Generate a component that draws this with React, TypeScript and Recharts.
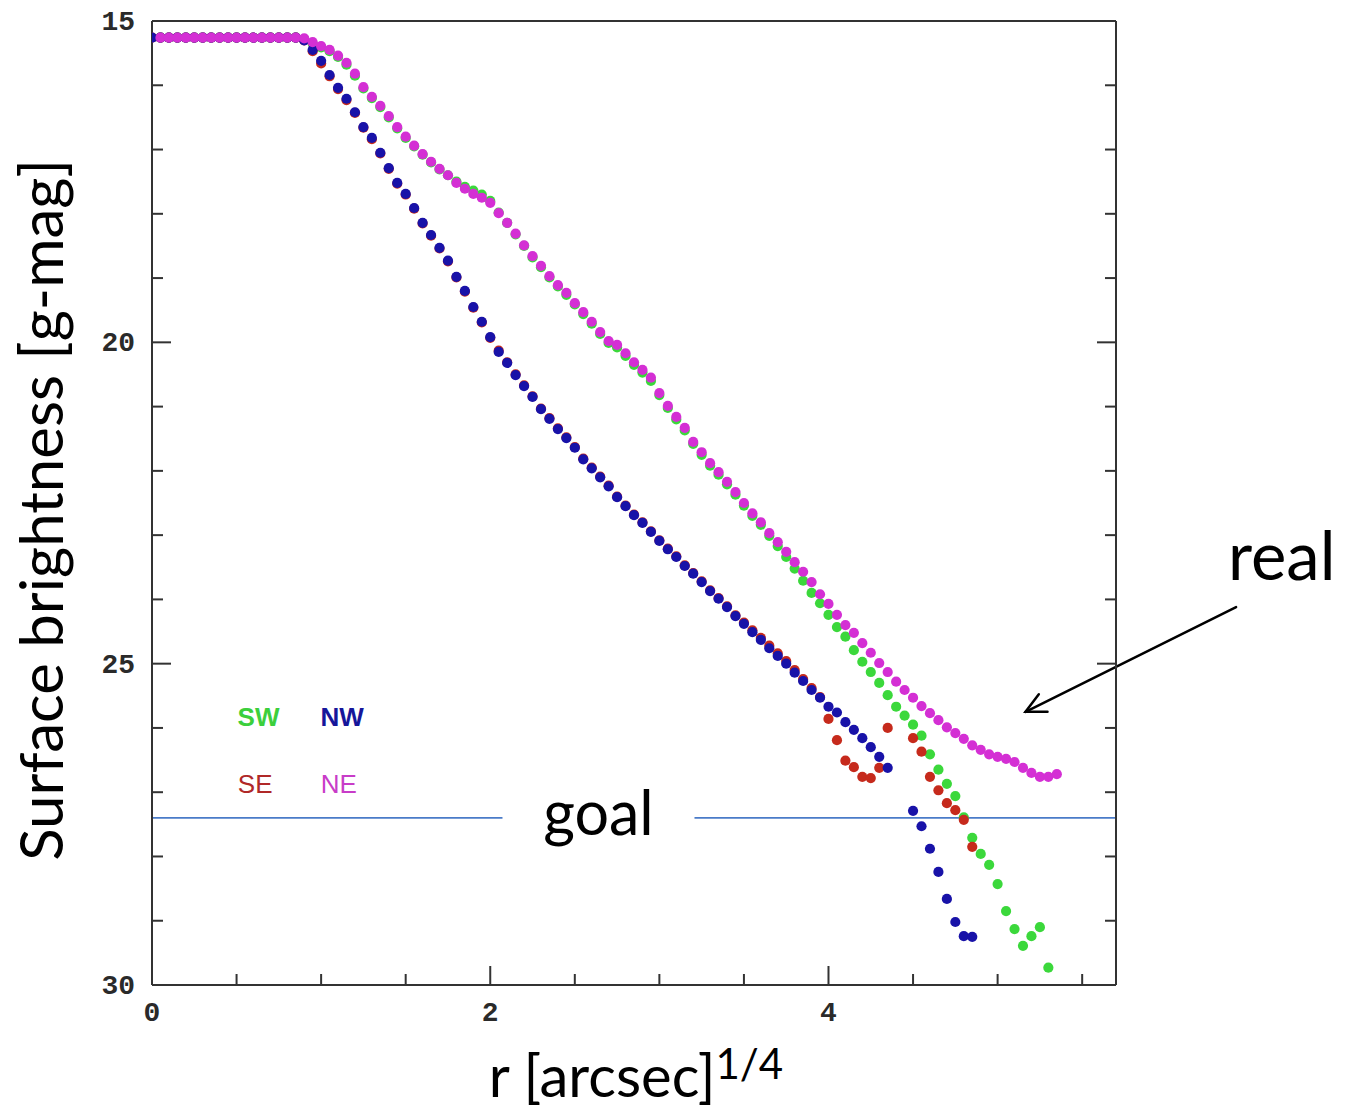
import React from 'react';
import { ScatterChart, Scatter, XAxis, YAxis, ReferenceLine, ReferenceDot, Label } from 'recharts';

// radius grid, r^(1/4) in arcsec
const R = [
  0.0, 0.05, 0.1, 0.15, 0.2, 0.25, 0.3, 0.35, 0.4, 0.45,
  0.5, 0.55, 0.6, 0.65, 0.7, 0.75, 0.8, 0.85, 0.9, 0.95,
  1.0, 1.05, 1.1, 1.15, 1.2, 1.25, 1.3, 1.35, 1.4, 1.45,
  1.5, 1.55, 1.6, 1.65, 1.7, 1.75, 1.8, 1.85, 1.9, 1.95,
  2.0, 2.05, 2.1, 2.15, 2.2, 2.25, 2.3, 2.35, 2.4, 2.45,
  2.5, 2.55, 2.6, 2.65, 2.7, 2.75, 2.8, 2.85, 2.9, 2.95,
  3.0, 3.05, 3.1, 3.15, 3.2, 3.25, 3.3, 3.35, 3.4, 3.45,
  3.5, 3.55, 3.6, 3.65, 3.7, 3.75, 3.8, 3.85, 3.9, 3.95,
  4.0, 4.05, 4.1, 4.15, 4.2, 4.25, 4.3, 4.35, 4.4, 4.45,
  4.5, 4.55, 4.6, 4.65, 4.7, 4.75, 4.8, 4.85, 4.9, 4.95,
  5.0, 5.05, 5.1, 5.15, 5.2, 5.25, 5.3, 5.35,
];

const SW = [
  null, 15.26, 15.26, 15.26, 15.26, 15.26, 15.26, 15.26, 15.26, 15.26,
  15.26, 15.26, 15.26, 15.26, 15.26, 15.26, 15.26, 15.26, 15.28, 15.35,
  15.41, 15.47, 15.56, 15.68, 15.85, 16.05, 16.2, 16.34, 16.5, 16.67,
  16.82, 16.95, 17.08, 17.2, 17.31, 17.4, 17.5, 17.58, 17.64, 17.7,
  17.8, 17.98, 18.14, 18.32, 18.5, 18.68, 18.83, 18.99, 19.13, 19.26,
  19.41, 19.56, 19.71, 19.87, 20.01, 20.08, 20.21, 20.35, 20.47, 20.6,
  20.82, 21.02, 21.2, 21.37, 21.58, 21.75, 21.92, 22.06, 22.21, 22.37,
  22.54, 22.7, 22.84, 23.01, 23.17, 23.34, 23.52, 23.71, 23.9, 24.06,
  24.24, 24.43, 24.58, 24.79, 24.97, 25.13, 25.3, 25.49, 25.67, 25.81,
  25.95, 26.12, 26.41, 26.65, 26.87, 27.06, 27.39, 27.71, 27.96, 28.13,
  28.43, 28.85, 29.13, 29.39, 29.24, 29.1, 29.73, null,
];

const SE = [
  15.26, 15.26, 15.26, 15.26, 15.26, 15.26, 15.26, 15.26, 15.26, 15.26,
  15.26, 15.26, 15.26, 15.26, 15.26, 15.26, 15.26, 15.26, 15.3, 15.47,
  15.66, 15.86, 16.06, 16.23, 16.43, 16.66, 16.84, 17.06, 17.3, 17.53,
  17.7, 17.92, 18.15, 18.34, 18.54, 18.74, 18.99, 19.21, 19.46, 19.69,
  19.93, 20.13, 20.31, 20.5, 20.67, 20.84, 21.03, 21.18, 21.34, 21.48,
  21.63, 21.81, 21.95, 22.09, 22.23, 22.4, 22.54, 22.68, 22.8, 22.94,
  23.08, 23.21, 23.33, 23.47, 23.59, 23.72, 23.86, 23.98, 24.11, 24.25,
  24.36, 24.48, 24.6, 24.72, 24.84, 24.96, 25.1, 25.24, 25.38, 25.52,
  25.86, 26.19, 26.51, 26.61, 26.76, 26.78, 26.62, 26.0, null, null,
  26.16, 26.37, 26.76, 26.97, 27.17, 27.28, 27.43, 27.85, null, null,
  null, null, null, null, null, null, null, null,
];

const NW = [
  15.26, 15.26, 15.26, 15.26, 15.26, 15.26, 15.26, 15.26, 15.26, 15.26,
  15.26, 15.26, 15.26, 15.26, 15.26, 15.26, 15.26, 15.26, 15.3, 15.45,
  15.62, 15.84, 16.04, 16.21, 16.42, 16.65, 16.82, 17.05, 17.29, 17.52,
  17.69, 17.91, 18.14, 18.33, 18.53, 18.73, 18.98, 19.2, 19.45, 19.68,
  19.92, 20.15, 20.32, 20.51, 20.68, 20.85, 21.04, 21.19, 21.35, 21.49,
  21.64, 21.82, 21.96, 22.1, 22.24, 22.41, 22.55, 22.69, 22.81, 22.95,
  23.09, 23.22, 23.34, 23.48, 23.6, 23.73, 23.87, 23.99, 24.12, 24.26,
  24.38, 24.51, 24.63, 24.76, 24.88, 25.0, 25.14, 25.27, 25.41, 25.53,
  25.67, 25.76, 25.91, 26.03, 26.16, 26.3, 26.45, 26.62, null, null,
  27.29, 27.53, 27.88, 28.24, 28.66, 29.02, 29.24, 29.25, null, null,
  null, null, null, null, null, null, null, null,
];

const NE = [
  null, 15.26, 15.26, 15.26, 15.26, 15.26, 15.26, 15.26, 15.26, 15.26,
  15.26, 15.26, 15.26, 15.26, 15.26, 15.26, 15.26, 15.26, 15.27, 15.33,
  15.39, 15.45, 15.54, 15.65, 15.82, 16.03, 16.18, 16.32, 16.48, 16.65,
  16.8, 16.94, 17.07, 17.19, 17.3, 17.4, 17.52, 17.61, 17.69, 17.75,
  17.83, 17.99, 18.14, 18.31, 18.49, 18.66, 18.81, 18.97, 19.11, 19.23,
  19.39, 19.53, 19.68, 19.84, 19.98, 20.04, 20.17, 20.31, 20.43, 20.55,
  20.79, 20.99, 21.16, 21.33, 21.55, 21.71, 21.88, 22.02, 22.17, 22.33,
  22.5, 22.66, 22.8, 22.97, 23.11, 23.26, 23.42, 23.57, 23.73, 23.92,
  24.07, 24.24, 24.4, 24.52, 24.68, 24.83, 24.99, 25.13, 25.28, 25.41,
  25.53, 25.66, 25.77, 25.88, 25.99, 26.08, 26.17, 26.27, 26.34, 26.41,
  26.45, 26.48, 26.53, 26.62, 26.7, 26.76, 26.76, 26.72,
];

const X_TICKS = [0, 0.5, 1, 1.5, 2, 2.5, 3, 3.5, 4, 4.5, 5, 5.5];
const X_LABELS = [0, 2, 4];
const Y_TICKS = [15, 16, 17, 18, 19, 20, 21, 22, 23, 24, 25, 26, 27, 28, 29, 30];
const Y_LABELS = [15, 20, 25, 30];

const GOAL = 27.4;
const GOAL_TEXT = { r: 2.64, mag: GOAL };
const REAL_TEXT = { r: 6.68, mag: 23.7 };
const REAL_ARROW = [{ r: 6.41, mag: 24.12 }, { r: 5.165, mag: 25.75 }];

const LEGEND = [
  { name: 'SW', r: 0.63, mag: 25.83, color: '#3ccf3c', weight: 700 },
  { name: 'NW', r: 1.125, mag: 25.83, color: '#16169a', weight: 700 },
  { name: 'SE', r: 0.61, mag: 26.87, color: '#b02828', weight: 400 },
  { name: 'NE', r: 1.105, mag: 26.87, color: '#c83cc8', weight: 400 },
];

const SERIES = [
  { name: 'SW', values: SW, color: '#3bd83b' },
  { name: 'SE', values: SE, color: '#c62a1c' },
  { name: 'NW', values: NW, color: '#1812a8' },
  { name: 'NE', values: NE, color: '#d42fd4' },
];

const toPoints = (vals: (number | null)[]) =>
  R.map((r, i) => ({ r, mag: vals[i] })).filter((p) => p.mag !== null);

const AXIS = '#333';
const TEXT_FONT = 'Lato, "Open Sans", sans-serif';

const AxisTick = (props: any) => {
  const { x, y, payload, side } = props;
  const v = payload.value;
  const horiz = side === 'bottom' || side === 'top';
  const major = horiz ? X_LABELS.includes(v) : Y_LABELS.includes(v);
  const len = major ? 19 : 11;
  let line = null;
  let label = null;
  if (side === 'bottom') {
    line = <line x1={x} y1={y} x2={x} y2={y - len} />;
    if (major)
      label = (
        <text x={x} y={y + 36} textAnchor="middle">
          {v}
        </text>
      );
  } else if (side === 'top') {
    line = <line x1={x} y1={y} x2={x} y2={y + len} />;
  } else if (side === 'left') {
    line = <line x1={x} y1={y} x2={x + len} y2={y} />;
    if (major)
      label = (
        <text x={x - 17} y={y + 9} textAnchor="end">
          {v}
        </text>
      );
  } else {
    line = <line x1={x} y1={y} x2={x - len} y2={y} />;
  }
  return (
    <g>
      <g stroke={AXIS} strokeWidth={2}>{line}</g>
      <g fontFamily='"Liberation Mono", monospace' fontWeight={700} fontSize={28} fill="#2a2a2a">
        {label}
      </g>
    </g>
  );
};

const YTitle = ({ viewBox }: any) => {
  const cx = viewBox.x + 63;
  const cy = viewBox.y + viewBox.height / 2 + 7;
  return (
    <text
      x={cx}
      y={cy}
      transform={`rotate(-90 ${cx} ${cy})`}
      textAnchor="middle"
      fontFamily={TEXT_FONT}
      fontSize={60}
      fill="#000"
    >
      Surface brightness [g-mag]
    </text>
  );
};

const XTitle = ({ viewBox }: any) => {
  const cx = viewBox.x + viewBox.width / 2 + 2;
  const cy = viewBox.y + 112;
  return (
    <text x={cx} y={cy} textAnchor="middle" fontFamily={TEXT_FONT} fontSize={58} fill="#000">
      <tspan>r [arcsec]</tspan>
      <tspan dy={-18} fontSize={42}>
        1/4
      </tspan>
    </text>
  );
};

const Dot = (color: string) => (p: any) => <circle cx={p.cx} cy={p.cy} r={5.1} fill={color} />;

const Arrow = (p: any) => {
  const { x1, y1, x2, y2 } = p;
  const ang = Math.atan2(y1 - y2, x1 - x2);
  const L = 22;
  const a1 = ang + 0.46;
  const a2 = ang - 0.46;
  return (
    <g stroke="#000" strokeWidth={2.5} fill="none" strokeLinecap="round">
      <line x1={x1} y1={y1} x2={x2} y2={y2} />
      <polyline
        points={`${x2 + L * Math.cos(a1)},${y2 + L * Math.sin(a1)} ${x2},${y2} ${x2 + L * Math.cos(a2)},${y2 + L * Math.sin(a2)}`}
      />
    </g>
  );
};

export default function App() {
  return (
    <div style={{ width: 1349, height: 1111, background: '#fff' }}>
      <style>{'body{margin:0}'}</style>
      <ScatterChart width={1349} height={1111} margin={{ top: 0, right: 0, bottom: 0, left: 0 }}>
        <XAxis
          dataKey="r"
          type="number"
          domain={[0, 5.7]}
          ticks={X_TICKS}
          interval={0}
          height={126}
          tickSize={0}
          tickMargin={0}
          tickLine={false}
          axisLine={{ stroke: AXIS, strokeWidth: 2 }}
          tick={(p: any) => <AxisTick {...p} side="bottom" />}
          allowDataOverflow
        >
          <Label content={XTitle} />
        </XAxis>
        <XAxis
          xAxisId="top"
          orientation="top"
          type="number"
          domain={[0, 5.7]}
          ticks={X_TICKS}
          interval={0}
          height={21}
          tickSize={0}
          tickMargin={0}
          tickLine={false}
          axisLine={{ stroke: AXIS, strokeWidth: 2 }}
          tick={(p: any) => <AxisTick {...p} side="top" />}
          allowDataOverflow
        />
        <YAxis
          dataKey="mag"
          type="number"
          domain={[15, 30]}
          reversed
          ticks={Y_TICKS}
          interval={0}
          width={152}
          tickSize={0}
          tickMargin={0}
          tickLine={false}
          axisLine={{ stroke: AXIS, strokeWidth: 2 }}
          tick={(p: any) => <AxisTick {...p} side="left" />}
          allowDataOverflow
        >
          <Label content={YTitle} />
        </YAxis>
        <YAxis
          yAxisId="right"
          orientation="right"
          type="number"
          domain={[15, 30]}
          reversed
          ticks={Y_TICKS}
          interval={0}
          width={233}
          tickSize={0}
          tickMargin={0}
          tickLine={false}
          axisLine={{ stroke: AXIS, strokeWidth: 2 }}
          tick={(p: any) => <AxisTick {...p} side="right" />}
          allowDataOverflow
        />
        <ReferenceLine y={GOAL} stroke="#4a7bc8" strokeWidth={1.6} />
        {SERIES.map((s) => (
          <Scatter
            key={s.name}
            name={s.name}
            data={toPoints(s.values)}
            fill={s.color}
            shape={Dot(s.color)}
            isAnimationActive={false}
          />
        ))}
        <ReferenceDot
          x={GOAL_TEXT.r}
          y={GOAL_TEXT.mag}
          ifOverflow="visible"
          shape={(p: any) => (
            <g>
              <rect x={p.cx - 96} y={p.cy - 32} width={192} height={64} fill="#fff" />
              <text x={p.cx} y={p.cy + 17} textAnchor="middle" fontFamily={TEXT_FONT} fontSize={61} fill="#000">
                goal
              </text>
            </g>
          )}
        />
        <ReferenceLine
          segment={[
            { x: REAL_ARROW[0].r, y: REAL_ARROW[0].mag },
            { x: REAL_ARROW[1].r, y: REAL_ARROW[1].mag },
          ]}
          ifOverflow="visible"
          shape={Arrow}
        />
        <ReferenceDot
          x={REAL_TEXT.r}
          y={REAL_TEXT.mag}
          ifOverflow="visible"
          shape={(p: any) => (
            <text x={p.cx} y={p.cy} textAnchor="middle" fontFamily={TEXT_FONT} fontSize={67} fill="#000">
              real
            </text>
          )}
        />
        {LEGEND.map((l) => (
          <ReferenceDot
            key={l.name}
            x={l.r}
            y={l.mag}
            ifOverflow="visible"
            shape={(p: any) => (
              <text
                x={p.cx}
                y={p.cy + 9}
                textAnchor="middle"
                fontFamily='"Liberation Sans", Arial, sans-serif'
                fontWeight={l.weight}
                fontSize={26}
                fill={l.color}
              >
                {l.name}
              </text>
            )}
          />
        ))}
      </ScatterChart>
    </div>
  );
}
